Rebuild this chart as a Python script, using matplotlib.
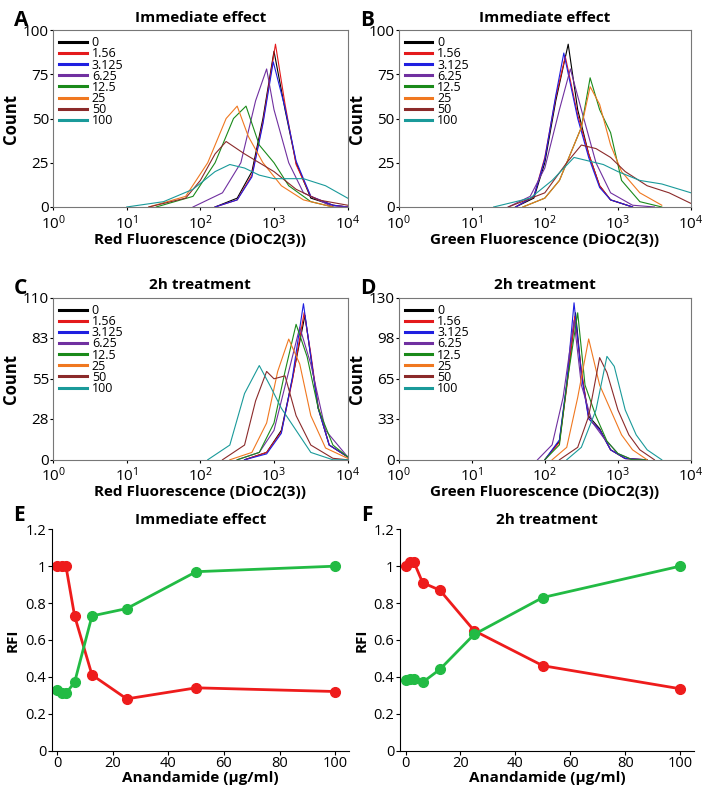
import numpy as np
import matplotlib
matplotlib.use("Agg")
import matplotlib.pyplot as plt

plt.rcParams["font.family"] = ["Open Sans", "DejaVu Sans"]

doses = ["0", "1.56", "3.125", "6.25", "12.5", "25", "50", "100"]
colors = ["black", "#e41a1c", "#1f1fe0", "#7030a0", "#1a8a1a", "#f07820", "#8b2a2a", "#1a9a9a"]

# histogram curves: (log10 fluorescence, count) points
hist_a = [
    [(2.2, 0), (2.5, 5), (2.7, 20), (2.85, 50), (3.0, 88), (3.15, 55), (3.3, 25), (3.5, 5), (3.8, 1), (4, 0)],
    [(2.2, 0), (2.5, 4), (2.7, 18), (2.85, 48), (3.02, 92), (3.15, 58), (3.3, 24), (3.5, 6), (3.8, 1), (4, 0)],
    [(2.2, 0), (2.5, 4), (2.7, 17), (2.85, 47), (2.99, 82), (3.15, 56), (3.3, 26), (3.5, 6), (3.8, 1), (4, 0)],
    [(1.9, 0), (2.3, 8), (2.55, 25), (2.75, 60), (2.9, 78), (3.0, 55), (3.2, 25), (3.4, 8), (3.8, 0), (4, 0)],
    [(1.4, 0), (1.9, 6), (2.2, 25), (2.45, 50), (2.62, 57), (2.8, 35), (3.0, 25), (3.2, 12), (3.5, 3), (3.8, 0)],
    [(1.3, 0), (1.8, 6), (2.1, 25), (2.35, 50), (2.5, 57), (2.65, 40), (2.85, 25), (3.1, 12), (3.4, 4), (3.8, 0)],
    [(1.3, 0), (1.8, 5), (2.0, 15), (2.2, 30), (2.35, 37), (2.6, 30), (2.8, 25), (3.0, 20), (3.3, 10), (3.6, 4), (4, 1)],
    [(1.0, 0), (1.5, 3), (1.9, 10), (2.2, 20), (2.4, 24), (2.6, 22), (2.8, 18), (3.0, 16), (3.4, 16), (3.7, 12), (4, 5)],
]
hist_b = [
    [(1.6, 0), (1.85, 5), (2.0, 25), (2.15, 60), (2.32, 92), (2.45, 55), (2.6, 30), (2.75, 12), (2.9, 4), (3.2, 0)],
    [(1.6, 0), (1.85, 6), (2.0, 28), (2.15, 62), (2.28, 85), (2.45, 52), (2.6, 30), (2.75, 12), (2.9, 4), (3.2, 0)],
    [(1.6, 0), (1.85, 6), (2.0, 27), (2.15, 63), (2.26, 87), (2.45, 50), (2.6, 28), (2.75, 11), (2.9, 4), (3.2, 0)],
    [(1.5, 0), (1.8, 6), (2.0, 22), (2.2, 55), (2.35, 78), (2.5, 55), (2.7, 25), (2.9, 8), (3.2, 1), (3.5, 0)],
    [(1.7, 0), (2.0, 5), (2.2, 15), (2.4, 35), (2.5, 45), (2.62, 73), (2.75, 55), (2.9, 42), (3.05, 15), (3.3, 3), (3.6, 0)],
    [(1.7, 0), (2.0, 5), (2.2, 15), (2.4, 35), (2.5, 45), (2.62, 68), (2.75, 58), (2.9, 35), (3.05, 20), (3.3, 8), (3.6, 1)],
    [(1.5, 0), (2.0, 8), (2.3, 25), (2.5, 35), (2.7, 33), (2.9, 28), (3.1, 20), (3.4, 12), (3.7, 8), (4, 2)],
    [(1.3, 0), (1.8, 5), (2.1, 15), (2.4, 28), (2.6, 26), (2.8, 24), (3.0, 20), (3.3, 15), (3.6, 13), (4, 8)],
]
hist_c = [
    [(2.6, 0), (2.9, 5), (3.1, 20), (3.25, 55), (3.42, 98), (3.5, 70), (3.6, 35), (3.75, 10), (4, 2)],
    [(2.6, 0), (2.9, 5), (3.1, 19), (3.25, 54), (3.41, 100), (3.5, 72), (3.6, 36), (3.75, 10), (4, 2)],
    [(2.6, 0), (2.9, 4), (3.1, 18), (3.25, 56), (3.4, 106), (3.5, 70), (3.6, 35), (3.75, 10), (4, 2)],
    [(2.5, 0), (2.8, 5), (3.0, 20), (3.2, 60), (3.35, 90), (3.5, 65), (3.7, 20), (4, 2)],
    [(2.5, 0), (2.8, 5), (3.0, 25), (3.15, 60), (3.3, 92), (3.45, 70), (3.6, 35), (3.8, 10), (4, 2)],
    [(2.4, 0), (2.7, 5), (2.9, 25), (3.05, 60), (3.2, 82), (3.35, 65), (3.5, 30), (3.7, 8), (4, 1)],
    [(2.3, 0), (2.6, 10), (2.75, 40), (2.9, 60), (3.0, 55), (3.15, 57), (3.3, 30), (3.5, 10), (3.8, 1), (4, 0)],
    [(2.1, 0), (2.4, 10), (2.6, 45), (2.8, 64), (2.95, 50), (3.1, 35), (3.3, 20), (3.5, 5), (3.8, 0), (4, 0)],
]
hist_d = [
    [(2.0, 0), (2.2, 15), (2.3, 60), (2.42, 118), (2.5, 70), (2.6, 35), (2.75, 25), (2.9, 8), (3.1, 1), (3.4, 0)],
    [(2.0, 0), (2.2, 14), (2.3, 58), (2.41, 115), (2.5, 72), (2.6, 33), (2.75, 24), (2.9, 8), (3.1, 1), (3.4, 0)],
    [(2.0, 0), (2.2, 16), (2.3, 62), (2.4, 126), (2.5, 68), (2.6, 33), (2.75, 24), (2.9, 8), (3.1, 1), (3.4, 0)],
    [(1.9, 0), (2.1, 12), (2.25, 50), (2.4, 112), (2.5, 60), (2.65, 30), (2.8, 18), (3.0, 5), (3.2, 0), (3.4, 0)],
    [(2.0, 0), (2.2, 12), (2.3, 60), (2.45, 118), (2.55, 60), (2.7, 35), (2.85, 15), (3.0, 5), (3.2, 0), (3.4, 0)],
    [(2.1, 0), (2.3, 10), (2.45, 50), (2.6, 97), (2.75, 60), (2.9, 40), (3.05, 20), (3.2, 8), (3.4, 0)],
    [(2.2, 0), (2.45, 10), (2.6, 35), (2.75, 82), (2.85, 70), (3.0, 40), (3.15, 20), (3.3, 8), (3.5, 0)],
    [(2.3, 0), (2.5, 10), (2.7, 40), (2.85, 83), (2.95, 75), (3.1, 40), (3.25, 20), (3.4, 8), (3.6, 0)],
]

conc = [0, 1.56, 3.125, 6.25, 12.5, 25, 50, 100]
rfi_e_red = [1.0, 1.0, 1.0, 0.73, 0.41, 0.28, 0.34, 0.32]
rfi_e_green = [0.33, 0.31, 0.31, 0.37, 0.73, 0.77, 0.97, 1.0]
rfi_f_red = [1.0, 1.02, 1.02, 0.91, 0.87, 0.65, 0.46, 0.335]
rfi_f_green = [0.38, 0.39, 0.39, 0.37, 0.44, 0.63, 0.83, 1.0]

fig = plt.figure(figsize=(7.08, 7.9), dpi=100)


def hist_panel(rect, curves, yticks, title, xlabel, letter):
    ax = fig.add_axes(rect)
    for pts, c, lab in zip(curves, colors, doses):
        lx, y = zip(*pts)
        ax.plot(10 ** np.array(lx), y, color=c, lw=0.8, label=lab)
    ax.set_xscale("log")
    ax.set_xlim(1, 1e4)
    ax.set_ylim(0, yticks[-1])
    ax.set_yticks(yticks)
    ax.tick_params(labelsize=11, length=2, pad=1)
    ax.tick_params(axis="x", pad=3)
    ax.minorticks_off()
    ax.set_title(title, fontsize=11, fontweight="bold", pad=6)
    ax.set_xlabel(xlabel, fontsize=11, fontweight="bold", labelpad=0)
    ax.set_ylabel("Count", fontsize=12, fontweight="bold", labelpad=2)
    for s in ax.spines.values():
        s.set_color("#777777")
    leg = ax.legend(loc="upper left", fontsize=9, frameon=False, handlelength=2.2,
                    labelspacing=-0.15, borderaxespad=0.1, handletextpad=0.4)
    for h in leg.get_lines():
        h.set_linewidth(2.2)
    fig.text(rect[0] - 0.055, rect[1] + rect[3] + 0.005, letter, fontsize=15, fontweight="bold")
    return ax


hist_panel([0.075, 0.738, 0.416, 0.224], hist_a, [0, 25, 50, 75, 100], "Immediate effect",
           "Red Fluorescence (DiOC2(3))", "A")
hist_panel([0.563, 0.738, 0.413, 0.224], hist_b, [0, 25, 50, 75, 100], "Immediate effect",
           "Green Fluorescence (DiOC2(3))", "B")
hist_panel([0.075, 0.418, 0.416, 0.205], hist_c, [0, 28, 55, 83, 110], "2h treatment",
           "Red Fluorescence (DiOC2(3))", "C")
hist_panel([0.563, 0.418, 0.413, 0.205], hist_d, [0, 33, 65, 98, 130], "2h treatment",
           "Green Fluorescence (DiOC2(3))", "D")


def rfi_panel(rect, red, green, title, letter):
    ax = fig.add_axes(rect)
    ax.plot(conc, red, "-o", color="#ee1c1c", lw=2, ms=7)
    ax.plot(conc, green, "-o", color="#22bb44", lw=2, ms=7)
    ax.set_xlim(-2, 105)
    ax.set_ylim(0, 1.2)
    ax.set_xticks([0, 20, 40, 60, 80, 100])
    ax.set_yticks(np.arange(0, 1.21, 0.2))
    ax.set_yticklabels(["0", "0.2", "0.4", "0.6", "0.8", "1", "1.2"])
    ax.tick_params(labelsize=10.5, length=3, pad=1)
    ax.set_xlabel("Anandamide (\u03bcg/ml)", fontsize=11, fontweight="bold", labelpad=0)
    ax.set_ylabel("RFI", fontsize=11, fontweight="bold")
    ax.set_title(title, fontsize=11, fontweight="bold", pad=4)
    for s in ["top", "right"]:
        ax.spines[s].set_visible(False)
    fig.text(rect[0] - 0.055, rect[1] + rect[3] + 0.01, letter, fontsize=15, fontweight="bold")


rfi_panel([0.073, 0.05, 0.42, 0.28], rfi_e_red, rfi_e_green, "Immediate effect", "E")
rfi_panel([0.565, 0.05, 0.415, 0.28], rfi_f_red, rfi_f_green, "2h treatment", "F")

fig.savefig("out.png", dpi=100)
